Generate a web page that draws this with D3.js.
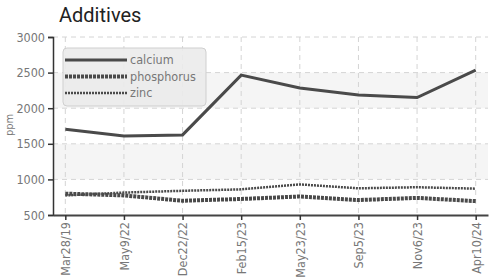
<!DOCTYPE html>
<html><head><meta charset="utf-8">
<script src="https://cdn.jsdelivr.net/npm/d3@7"></script>
<style>
body{margin:0;background:#fff;}
text{font-family:"DejaVu Sans Condensed",sans-serif;}
</style></head><body>
<svg id="c" width="491" height="279"></svg>
<script>
const dates = ["Mar28/19","May9/22","Dec22/22","Feb15/23","May23/23","Sep5/23","Nov6/23","Apr10/24"];
const calcium = [1705, 1610, 1625, 2465, 2285, 2185, 2150, 2535];
const phosphorus = [800, 775, 700, 725, 760, 710, 740, 695];
const zinc = [775, 815, 840, 860, 930, 875, 890, 870];
const yTicks = [500, 1000, 1500, 2000, 2500, 3000];
const seriesNames = ["calcium","phosphorus","zinc"];

const svg = d3.select("#c");
const L = 53, R = 488, T = 37, B = 215;
const x = d3.scalePoint().domain(dates).range([L, R]).padding(0.21);
const y = d3.scaleLinear().domain([500, 3000]).range([B, T]);
const FONT = '"DejaVu Sans Condensed",sans-serif';

// bands
[[1000,1500],[2000,2500]].forEach(b => {
  svg.append("rect").attr("x", L).attr("width", R - L)
    .attr("y", y(b[1])).attr("height", y(b[0]) - y(b[1])).attr("fill", "#f5f5f5");
});
// grid
const g = svg.append("g").attr("stroke", "#d4d4d4").attr("stroke-dasharray", "5,4").attr("stroke-width", 1);
yTicks.filter(v => v > 500).forEach(v => {
  g.append("line").attr("x1", L).attr("x2", R).attr("y1", y(v)).attr("y2", y(v));
});
dates.forEach(d => {
  g.append("line").attr("x1", x(d)).attr("x2", x(d)).attr("y1", T).attr("y2", B);
});

// title
svg.append("text").attr("x", 59).attr("y", 22).text("Additives")
  .style("font-family", "Roboto, sans-serif").attr("font-size", 20).attr("fill", "#222");

// axes
const yAxis = svg.append("g").attr("transform", `translate(${L},0)`)
  .call(d3.axisLeft(y).tickValues(yTicks).tickFormat(d3.format("d")).tickSize(5).tickPadding(3));
yAxis.select(".domain").attr("stroke", "#333").attr("stroke-width", 1.5);
yAxis.selectAll(".tick line").attr("stroke", "#333").attr("stroke-width", 1.5);
yAxis.selectAll("text").attr("font-size", 12.5).attr("fill", "#777").style("font-family", FONT);

const xAxis = svg.append("g").attr("transform", `translate(0,${B})`)
  .call(d3.axisBottom(x).tickSize(5).tickSizeOuter(0));
xAxis.select(".domain").attr("stroke", "#444").attr("stroke-width", 2);
xAxis.selectAll(".tick line").attr("stroke", "#333").attr("stroke-width", 1.5);
xAxis.selectAll("text").attr("font-size", 12.5).attr("fill", "#777")
  .attr("transform", "rotate(-90)").attr("text-anchor", "end")
  .attr("x", -7).attr("y", 0).attr("dy", "0.35em").style("font-family", FONT);

svg.append("text").attr("transform", "translate(13,125) rotate(-90)")
  .attr("text-anchor", "middle").attr("font-size", 11).attr("fill", "#777").text("ppm");

// lines
const styles = {
  calcium: {w: 3, dash: null},
  phosphorus: {w: 4, dash: "3,1"},
  zinc: {w: 2.5, dash: "2,1"}
};
const data = {calcium, phosphorus, zinc};
const line = d3.line().x((d, i) => x(dates[i])).y(d => y(d));
["zinc","phosphorus","calcium"].forEach(n => {
  svg.append("path").datum(data[n]).attr("d", line).attr("fill", "none")
    .attr("stroke", "#4a4a4a").attr("stroke-width", styles[n].w)
    .attr("stroke-dasharray", styles[n].dash);
});

// legend
const lg = svg.append("g");
lg.append("rect").attr("x", 63).attr("y", 48).attr("width", 143).attr("height", 58)
  .attr("rx", 4).attr("fill", "#ebebeb").attr("fill-opacity", 0.9)
  .attr("stroke", "#cfcfcf").attr("stroke-width", 1);
seriesNames.forEach((n, i) => {
  const yy = 60 + i * 16.5;
  lg.append("line").attr("x1", 65).attr("x2", 127).attr("y1", yy).attr("y2", yy)
    .attr("stroke", "#4a4a4a").attr("stroke-width", styles[n].w)
    .attr("stroke-dasharray", styles[n].dash);
  lg.append("text").attr("x", 130).attr("y", yy).attr("dy", "0.35em")
    .attr("font-size", 12.5).attr("fill", "#777").text(n);
});
</script>
</body></html>
